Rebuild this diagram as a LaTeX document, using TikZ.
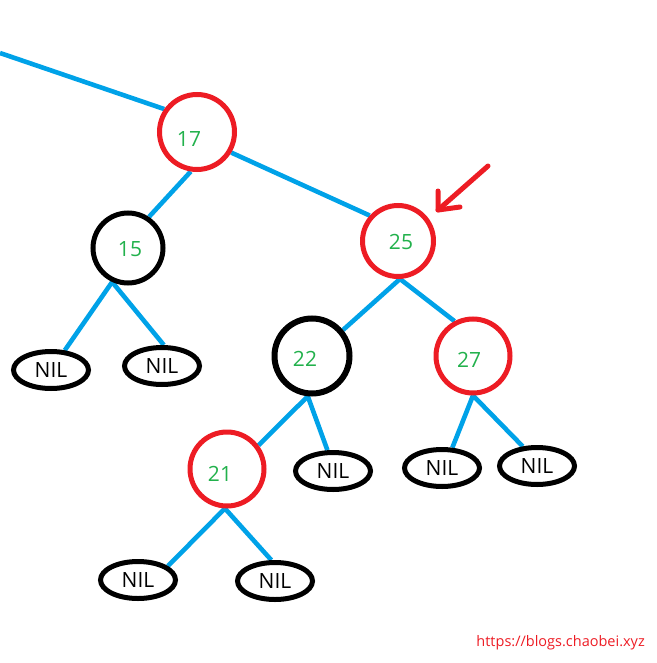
\documentclass[tikz,border=0pt]{standalone}
\usepackage{fontspec}
\setmainfont{Open Sans}
\usetikzlibrary{shapes.geometric,backgrounds}
\definecolor{pred}{HTML}{ED1C24}
\definecolor{pblue}{HTML}{00A2E8}
\definecolor{pgreen}{HTML}{22B14C}
\tikzset{
  rbnode/.style={circle, draw, line width=5pt, inner sep=0pt},
  rednode/.style={rbnode, draw=pred},
  blacknode/.style={rbnode, draw=black},
  nilnode/.style={ellipse, draw=black, line width=5pt, inner sep=0pt, minimum width=75pt, minimum height=37pt, font=\fontsize{21}{24}\selectfont},
  num/.style={text=pgreen, inner sep=0pt, font=\fontsize{21}{24}\selectfont},
  edge/.style={draw=pblue, line width=4.6pt},
  mark arrow/.style={draw=pred, line width=5pt, line cap=round, line join=round}
}
\begin{document}
\begin{tikzpicture}[x=1pt,y=-1pt]
\path[use as bounding box] (0,0) rectangle (656,663);
% circles
\node[rednode, minimum size=75pt] (n17) at (197,132) {};
\node[blacknode, minimum size=70pt] (n15) at (128,248) {};
\node[rednode, minimum size=71pt] (n25) at (398,241) {};
\node[blacknode, line width=6pt, minimum size=75pt] (n22) at (312,356) {};
\node[rednode, minimum size=74pt] (n27) at (473,356) {};
\node[rednode, minimum size=74pt] (n21) at (227,469) {};
% numbers
\node[num] (t17) at (189,139) {17};
\node[num] (t15) at (130,249) {15};
\node[num] (t25) at (401,242) {25};
\node[num] (t22) at (305,359) {22};
\node[num] (t27) at (469,360) {27};
\node[num] (t21) at (220,474) {21};
% NIL leaves
\node[nilnode] (l1) at (51,370) {NIL};
\node[nilnode] (l2) at (162,366) {NIL};
\node[nilnode] (l3) at (333,471) {NIL};
\node[nilnode] (l4) at (442,468) {NIL};
\node[nilnode] (l5) at (537,466) {NIL};
\node[nilnode] (l6) at (138,580) {NIL};
\node[nilnode] (l7) at (275,581) {NIL};
% connectors
\coordinate (top) at (0,53);
\begin{scope}[on background layer]
\draw[edge] (top) -- (n17.145);
\draw[edge] (n17.261) -- (n15.56);
\draw[edge] (n17.329) -- (n25.138);
\draw[edge] (n15.245) -- (l1.55);
\draw[edge] (n15.245) -- (l2.85);
\draw[edge] (n25.273) -- (n22.40);
\draw[edge] (n25.273) -- (n27.118);
\draw[edge] (n22.264) -- (n21.37);
\draw[edge] (n22.264) -- (l3.105);
\draw[edge] (n27.270) -- (l4.63);
\draw[edge] (n27.270) -- (l5.126);
\draw[edge] (n21.267) -- (l6.25);
\draw[edge] (n21.267) -- (l7.100);
\end{scope}
% red pointer arrow
\coordinate (atail) at (488,166);
\coordinate (atip) at (438,210);
\coordinate (aleft) at (438,191);
\coordinate (aright) at (460,207);
\draw[mark arrow] (atail) -- (atip);
\draw[mark arrow] (aleft) -- (atip) -- (aright);
% watermark
\node[text=pred, anchor=east, inner sep=0pt, font=\fontsize{14.5}{16}\selectfont] (wm) at (645,643) {https://blogs.chaobei.xyz};
\end{tikzpicture}
\end{document}
